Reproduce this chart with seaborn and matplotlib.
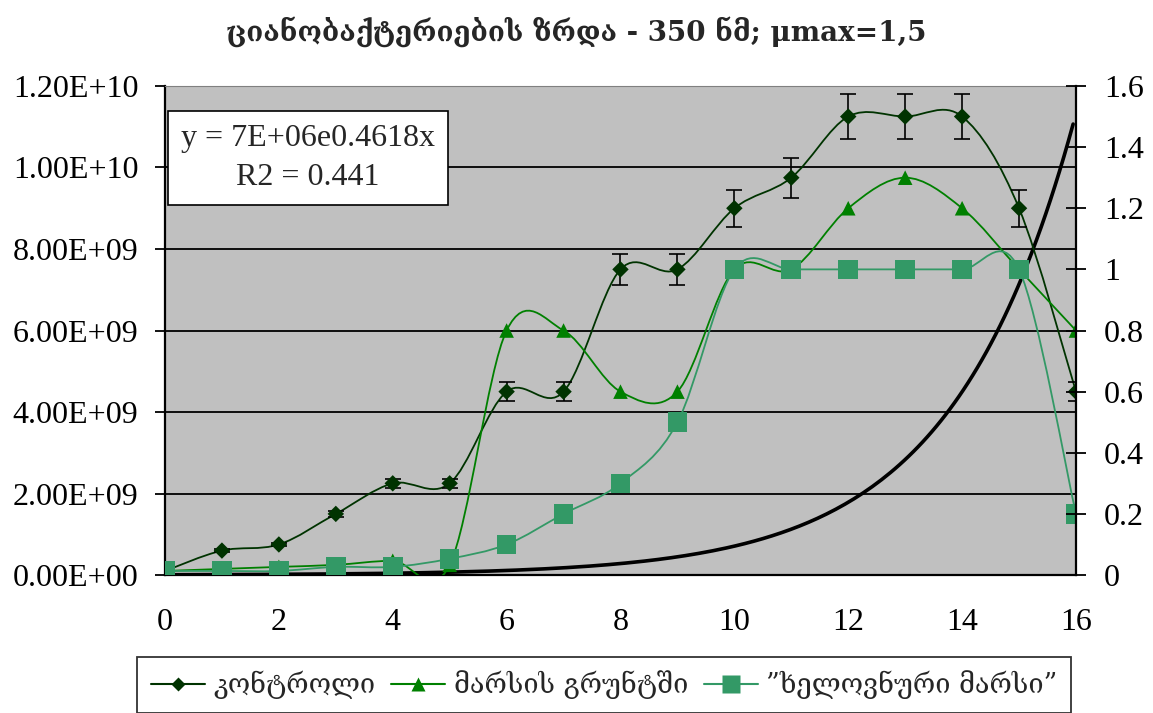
import numpy as np
import matplotlib
matplotlib.use('Agg')
import matplotlib.pyplot as plt
import seaborn as sns
from matplotlib.path import Path
from matplotlib.patches import PathPatch
from matplotlib.lines import Line2D
from matplotlib.ticker import FuncFormatter, MultipleLocator

sns.set_style('white')
plt.rcParams['font.family'] = ['Liberation Serif', 'DejaVu Serif']

# data (cells / ml)
days = [0, 1, 2, 3, 4, 5, 6, 7, 8, 9, 10, 11, 12, 13, 14, 15, 16]
control = [0.1e9, 0.6e9, 0.75e9, 1.5e9, 2.25e9, 2.25e9, 4.5e9, 4.5e9, 7.5e9,
           7.5e9, 9.0e9, 9.75e9, 11.25e9, 11.25e9, 11.25e9, 9.0e9, 4.5e9]
control_err = [v * 0.05 for v in control]
mars_soil = [0.1e9, 0.15e9, 0.2e9, 0.25e9, 0.35e9, 0.25e9, 6.0e9, 6.0e9, 4.5e9,
             4.5e9, 7.5e9, 7.5e9, 9.0e9, 9.75e9, 9.0e9, 7.5e9, 6.0e9]
artificial_mars = [0.1e9, 0.1e9, 0.1e9, 0.2e9, 0.2e9, 0.4e9, 0.75e9, 1.5e9, 2.25e9,
                   3.75e9, 7.5e9, 7.5e9, 7.5e9, 7.5e9, 7.5e9, 7.5e9, 1.5e9]

# exponential trendline as printed on the chart
trend_a = 7e6
trend_b = 0.4618
trend_r2 = 0.441

title = 'ციანობაქტერიების ზრდა - 350 ნმ; μmax=1,5'
labels = ['კონტროლი', 'მარსის გრუნტში', '”ხელოვნური მარსი”']

c_control = '#003300'
c_soil = '#008000'
c_art = '#339966'

geo_font = ['DejaVu Serif', 'DejaVu Sans']


def smooth_path(xs, ys):
    # excel-like smoothed line (bezier through the points)
    pts = np.column_stack([xs, ys]).astype(float)
    n = len(pts)
    verts = [pts[0]]
    codes = [Path.MOVETO]
    for i in range(n - 1):
        p0 = pts[i - 1] if i > 0 else pts[i]
        p1 = pts[i]
        p2 = pts[i + 1]
        p3 = pts[i + 2] if i + 2 < n else pts[i + 1]
        verts += [p1 + (p2 - p0) / 6, p2 - (p3 - p1) / 6, p2]
        codes += [Path.CURVE4] * 3
    return Path(verts, codes)


fig = plt.figure(figsize=(11.53, 7.13), dpi=100)
ax = fig.add_axes([0.1431, 0.1935, 0.7901, 0.6859])
ax.set_facecolor('#C0C0C0')

# trendline
tx = np.linspace(0, 15.95, 200)
sns.lineplot(x=tx, y=trend_a * np.exp(trend_b * tx), ax=ax, color='black',
             lw=2.6, zorder=3, legend=False)

# control series (bottom), then soil, then artificial mars on top
ax.add_patch(PathPatch(smooth_path(days, control), fill=False, edgecolor=c_control,
                       lw=1.3, zorder=4))
ax.errorbar(days, control, yerr=control_err, fmt='none', ecolor='black',
            elinewidth=1.2, capsize=6, capthick=1.2, zorder=4.5)
sns.scatterplot(x=days, y=control, ax=ax, marker='D', s=70,
                color=c_control, edgecolor='none', zorder=5, legend=False)

ax.add_patch(PathPatch(smooth_path(days, mars_soil), fill=False, edgecolor=c_soil,
                       lw=1.3, zorder=6))
sns.scatterplot(x=days, y=mars_soil, ax=ax, marker='^', s=110,
                color=c_soil, edgecolor='none', zorder=7, legend=False)

ax.add_patch(PathPatch(smooth_path(days, artificial_mars), fill=False, edgecolor=c_art,
                       lw=1.3, zorder=8))
sns.scatterplot(x=days, y=artificial_mars, ax=ax, marker='s', s=200,
                color=c_art, edgecolor='none', zorder=9, legend=False)

ax.set_xlim(0, 16)
ax.set_ylim(0, 1.2e10)
ax.xaxis.set_major_locator(MultipleLocator(2))
ax.yaxis.set_major_locator(MultipleLocator(2e9))
ax.yaxis.set_major_formatter(FuncFormatter(lambda v, p: f'{v:.2E}'))
ax.grid(axis='y', color='black', lw=1.3)
ax.set_axisbelow(True)
ax.tick_params(axis='both', which='major', direction='out', length=7, width=1.3,
               labelsize=23, colors='black')
ax.tick_params(axis='y', pad=12)
ax.tick_params(axis='x', pad=17)
for side in ['left', 'bottom']:
    ax.spines[side].set_color('black')
    ax.spines[side].set_linewidth(1.6)
ax.spines['top'].set_color('#808080')
ax.spines['right'].set_visible(False)

ax2 = ax.twinx()
ax2.set_ylim(0, 1.6)
ax2.yaxis.set_major_locator(MultipleLocator(0.2))
ax2.yaxis.set_major_formatter(FuncFormatter(lambda v, p: f'{v:g}'))
ax2.tick_params(axis='y', direction='inout', length=14, width=1.3, labelsize=23,
                colors='black', pad=13)
ax2.spines['right'].set_color('black')
ax2.spines['right'].set_linewidth(1.6)
for side in ['left', 'top', 'bottom']:
    ax2.spines[side].set_visible(False)

ax.text(0.157, 0.853, f'y = 7E+06e{trend_b}x\nR2 = {trend_r2}', transform=ax.transAxes,
        ha='center', va='center', fontsize=23, linespacing=1.45,
        bbox=dict(boxstyle='square,pad=0.42', facecolor='white', edgecolor='black', lw=1.2),
        zorder=10)

fig.text(0.5, 0.956, title, ha='center', va='center', fontsize=20,
         fontweight='bold', family=geo_font)

handles = [
    Line2D([], [], color=c_control, lw=1.5, marker='D', ms=7, mec='none'),
    Line2D([], [], color=c_soil, lw=1.5, marker='^', ms=10, mec='none'),
    Line2D([], [], color=c_art, lw=1.5, marker='s', ms=13, mec='none'),
]
leg = fig.legend(handles, labels, loc='upper center', bbox_to_anchor=(0.524, 0.098),
                 ncol=3, frameon=True, fancybox=False, handlelength=2.0,
                 handletextpad=0.3, columnspacing=0.6, borderpad=0.5,
                 prop={'family': geo_font, 'size': 19.5})
leg.get_frame().set_edgecolor('black')
leg.get_frame().set_linewidth(1.3)

fig.savefig('out.png', dpi=100)
